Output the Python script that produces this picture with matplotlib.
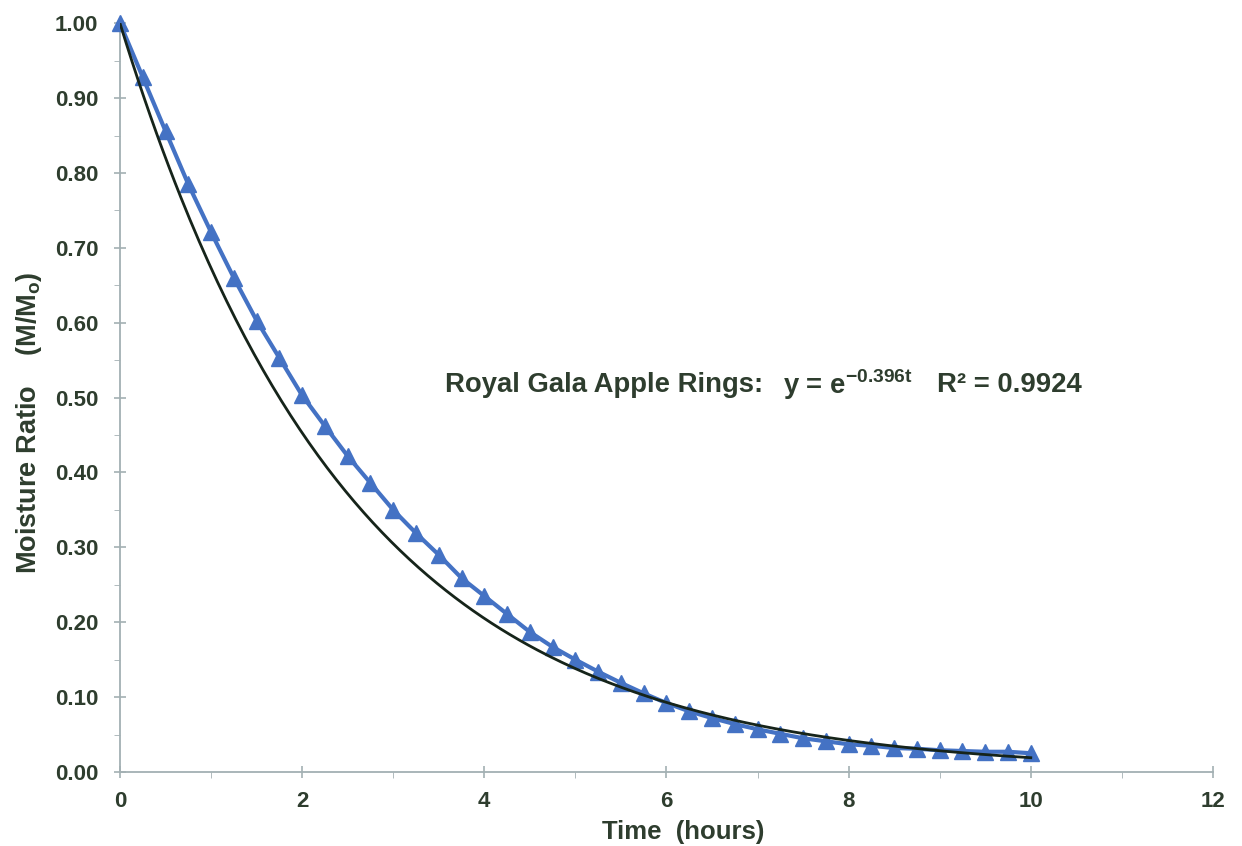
import numpy as np
import matplotlib.pyplot as plt

plt.rcParams['font.family'] = ['Liberation Sans', 'DejaVu Sans']
plt.rcParams['mathtext.fontset'] = 'custom'
plt.rcParams['mathtext.rm'] = 'Liberation Sans'
plt.rcParams['mathtext.bf'] = 'Liberation Sans:bold'

# measured moisture ratio, every 15 minutes
time_h = np.arange(0, 10.01, 0.25)
moisture = [1.000, 0.928, 0.856, 0.785, 0.721, 0.660, 0.603, 0.553, 0.503,
            0.462, 0.422, 0.386, 0.350, 0.319, 0.290, 0.259, 0.235, 0.211,
            0.187, 0.167, 0.150, 0.134, 0.119, 0.105, 0.092, 0.081, 0.072,
            0.064, 0.057, 0.051, 0.045, 0.041, 0.037, 0.035, 0.032, 0.031,
            0.029, 0.028, 0.027, 0.027, 0.025]

# fitted model from the chart text
k_fit = 0.396
t_fit = np.linspace(0, 10, 300)
y_fit = np.exp(-k_fit * t_fit)

text_col = "#2e3d2e"
axis_col = "#a3b0b3"
blue = "#4472c4"

fig = plt.figure(figsize=(12.42, 8.46), dpi=100)
ax = fig.add_axes([0.0966, 0.0875, 0.880, 0.885])

ax.plot(time_h, moisture, color=blue, lw=3, marker="^", ms=11,
        markeredgecolor=blue, zorder=3, clip_on=False)
ax.plot(t_fit, y_fit, color="#16241a", lw=2, zorder=4)

ax.set_xlim(0, 12)
ax.set_ylim(0, 1.0)
ax.set_xticks(range(0, 13, 2))
ax.set_xticks(range(0, 13, 1), minor=True)
ax.set_yticks(np.arange(0, 1.01, 0.1))
ax.set_yticks(np.arange(0, 1.01, 0.05), minor=True)
ax.set_yticklabels([f"{v:.2f}" for v in np.arange(0, 1.01, 0.1)])

for s in ["top", "right"]:
    ax.spines[s].set_visible(False)
for s in ["left", "bottom"]:
    ax.spines[s].set_color(axis_col)
    ax.spines[s].set_linewidth(1.3)

ax.tick_params(axis="both", which="major", direction="inout", length=9,
               width=1.2, color=axis_col, labelsize=16, labelcolor=text_col)
ax.tick_params(axis="x", which="major", pad=9)
ax.tick_params(axis="y", which="major", pad=11)
ax.tick_params(axis="both", which="minor", direction="out", length=4,
               color=axis_col)
for lab in ax.get_xticklabels() + ax.get_yticklabels():
    lab.set_fontweight("bold")

ax.set_xlabel("Time  (hours)", fontsize=18.5, fontweight="bold",
              color=text_col, x=0.515, labelpad=6)
ax.set_ylabel("Moisture Ratio    (M/M$_\\mathbf{o}$)", fontsize=19.5,
              fontweight="bold", color=text_col, labelpad=8, y=0.467)

ann = dict(fontsize=19.8, fontweight="bold", color=text_col, va="center")
ax.text(3.57, 0.517, "Royal Gala Apple Rings:", **ann)
ax.text(7.28, 0.517, "y = e$^\\mathbf{-0.396t}$", **ann)
ax.text(8.97, 0.517, "R² = 0.9924", **ann)

fig.savefig("out.png", dpi=100)
